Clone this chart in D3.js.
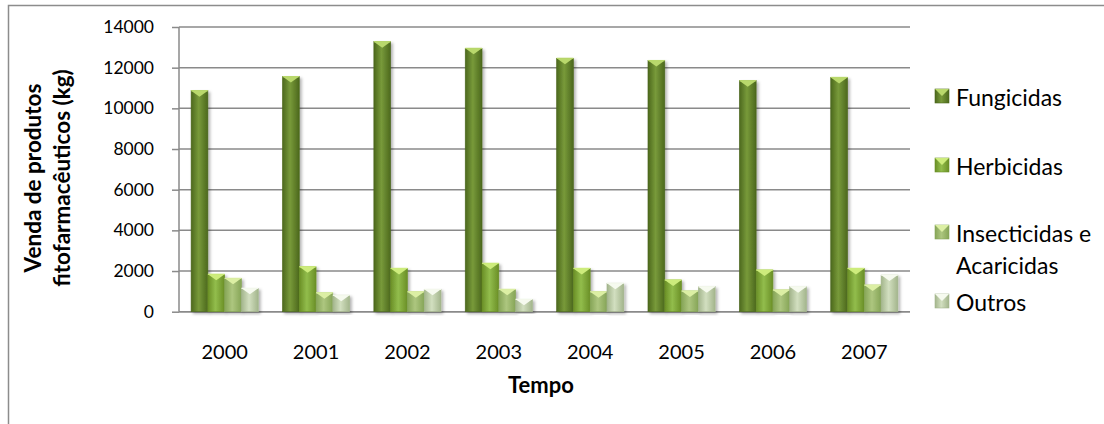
<!DOCTYPE html>
<html>
<head>
<meta charset="utf-8">
<script src="https://cdn.jsdelivr.net/npm/d3@7"></script>
<style>
  html, body { margin: 0; padding: 0; background: #fff; }
  svg { display: block; font-family: Lato, "Open Sans", sans-serif; }
</style>
</head>
<body>
<svg id="chart" width="1104" height="424"></svg>
<script>
const years = ["2000", "2001", "2002", "2003", "2004", "2005", "2006", "2007"];
const seriesNames = ["Fungicidas", "Herbicidas", "Insecticidas e Acaricidas", "Outros"];
const fungicidas = [10870, 11560, 13280, 12950, 12460, 12350, 11360, 11520];
const herbicidas = [1840, 2210, 2130, 2380, 2130, 1560, 2050, 2130];
const insecticidas = [1640, 930, 980, 1100, 980, 1020, 1070, 1310];
const outros = [1150, 810, 1100, 610, 1400, 1230, 1230, 1800];
const yTicks = [0, 2000, 4000, 6000, 8000, 10000, 12000, 14000];

(function () {
const seriesValues = [fungicidas, herbicidas, insecticidas, outros];
const palette = [
  { edge: "#4c681d", mid: "#789a3a", bevel: "#b9d86c" },
  { edge: "#6a8f26", mid: "#92bd4c", bevel: "#cdec7c" },
  { edge: "#86a557", mid: "#adc67f", bevel: "#dcefa4" },
  { edge: "#a3b58c", mid: "#d2dfc0", bevel: "#f6faef" }
];

const svg = d3.select("#chart");
const defs = svg.append("defs");
palette.forEach((p, i) => {
  const g = defs.append("linearGradient").attr("id", "grad" + i)
    .attr("x1", "0").attr("x2", "1").attr("y1", "0").attr("y2", "0");
  g.append("stop").attr("offset", "0").attr("stop-color", p.edge);
  g.append("stop").attr("offset", "0.45").attr("stop-color", p.mid);
  g.append("stop").attr("offset", "1").attr("stop-color", p.edge);
});
const f = defs.append("filter").attr("id", "shadow")
  .attr("x", "-20%").attr("y", "-5%").attr("width", "160%").attr("height", "120%");
f.append("feDropShadow").attr("dx", 2).attr("dy", 2).attr("stdDeviation", 1.5)
  .attr("flood-color", "#000").attr("flood-opacity", 0.3);

// outer frame
svg.append("rect").attr("x", 8.5).attr("y", 5.5).attr("width", 1110).attr("height", 440)
  .attr("fill", "none").attr("stroke", "#8c8c8c").attr("stroke-width", 1.5);

const left = 179, right = 910, plotTop = 27, bottom = 311.7;
const x = d3.scaleBand().domain(years).range([left, right]).paddingInner(0.265).paddingOuter(0.1325);
const xs = d3.scaleBand().domain(d3.range(4)).range([0, x.bandwidth()]);
const y = d3.scaleLinear().domain([0, 14000]).range([bottom, plotTop]);

// gridlines
svg.append("g").selectAll("line").data(yTicks).join("line")
  .attr("x1", left).attr("x2", right)
  .attr("y1", d => y(d)).attr("y2", d => y(d))
  .attr("stroke", "#8a8a8a").attr("stroke-width", 1.5);

// y axis
const yAxis = svg.append("g").attr("transform", `translate(${left},0)`)
  .call(d3.axisLeft(y).tickValues(yTicks).tickSize(7).tickPadding(18).tickFormat(d3.format("d")));
yAxis.select(".domain").attr("stroke", "#8a8a8a").attr("stroke-width", 1.5).attr("d", `M0,${bottom}V${plotTop}`);
yAxis.selectAll(".tick line").attr("stroke", "#8a8a8a").attr("stroke-width", 1.5);
yAxis.selectAll("text").attr("font-size", 17.5).attr("fill", "#000").attr("font-family", "Lato");

// x axis
const xAxis = svg.append("g").attr("transform", `translate(0,${bottom})`)
  .call(d3.axisBottom(x).tickSize(0).tickPadding(33));
xAxis.select(".domain").attr("stroke", "#8a8a8a").attr("stroke-width", 1.5)
  .attr("d", `M${left},0H${right}`);
xAxis.selectAll("text").attr("font-size", 20).attr("fill", "#000").attr("font-family", "Lato");

// bars
const groups = svg.append("g").selectAll("g").data(years).join("g")
  .attr("transform", d => `translate(${x(d)},0)`);
groups.each(function(yr, yi) {
  const g = d3.select(this);
  seriesValues.forEach((vals, si) => {
    const v = vals[yi];
    const bx = xs(si), bw = xs.bandwidth();
    const by = y(v), bh = y(0) - y(v);
    const bar = g.append("g").attr("filter", "url(#shadow)");
    bar.append("rect").attr("x", bx).attr("y", by).attr("width", bw).attr("height", bh)
      .attr("fill", `url(#grad${si})`).attr("stroke", palette[si].edge).attr("stroke-width", 0.6);
    const bev = Math.min(6, bh);
    bar.append("path")
      .attr("d", `M${bx},${by}L${bx + bw},${by}L${bx + bw / 2},${by + bev}Z`)
      .attr("fill", palette[si].bevel);
    bar.append("line").attr("x1", bx).attr("x2", bx + bw).attr("y1", by).attr("y2", by)
      .attr("stroke", palette[si].bevel).attr("stroke-width", 1.2);
  });
});

// axis titles
svg.append("text").attr("x", 541).attr("y", 393)
  .attr("text-anchor", "middle").attr("font-weight", "bold").attr("font-size", 22)
  .text("Tempo");
const yt = svg.append("text").attr("transform", "translate(41,178) rotate(-90)")
  .attr("text-anchor", "middle").attr("font-weight", "bold").attr("font-size", 22.5);
yt.append("tspan").attr("x", 0).attr("dy", 0).text("Venda de produtos");
yt.append("tspan").attr("x", 0).attr("dy", 29).text("fitofarmacêuticos (kg)");

// legend
const legendItems = [
  { i: 0, lines: ["Fungicidas"], y: 97 },
  { i: 1, lines: ["Herbicidas"], y: 166 },
  { i: 2, lines: ["Insecticidas e", "Acaricidas"], y: 233 },
  { i: 3, lines: ["Outros"], y: 302 }
];
const lg = svg.append("g");
legendItems.forEach(it => {
  const p = palette[it.i];
  lg.append("rect").attr("x", 935).attr("y", it.y - 8).attr("width", 14).attr("height", 14)
    .attr("fill", `url(#grad${it.i})`).attr("stroke", p.edge).attr("stroke-width", 0.6);
  lg.append("path").attr("d", `M935,${it.y - 8}L949,${it.y - 8}L942,${it.y - 1}Z`).attr("fill", p.bevel);
  const t = lg.append("text").attr("x", 956).attr("y", it.y).attr("dominant-baseline", "central")
    .attr("font-size", 23);
  it.lines.forEach((l, k) => t.append("tspan").attr("x", 956).attr("dy", k === 0 ? 0 : 32).text(l));
});
})();
</script>
</body>
</html>
